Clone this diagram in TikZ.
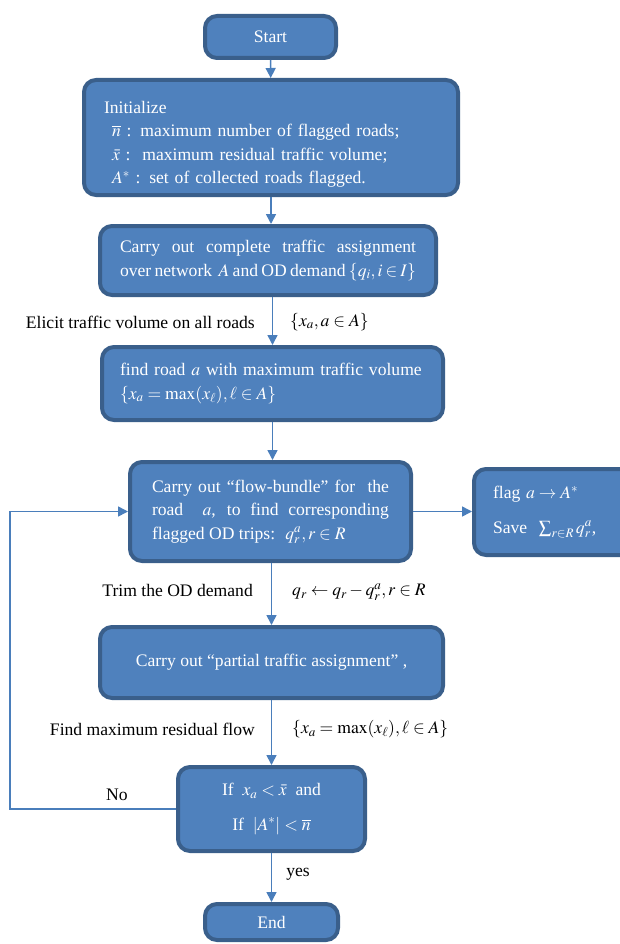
\documentclass[tikz,border=0pt]{standalone}
\usepackage{mathptmx}
\usepackage{fontspec}
\setmainfont{Liberation Serif}
\usepackage{xcolor}
\usepackage{tikz}
\usetikzlibrary{arrows.meta}

\definecolor{boxfill}{HTML}{4F81BD}
\definecolor{boxedge}{HTML}{3A5F8B}
\definecolor{flowline}{HTML}{4A7EBB}

\tikzset{
	box/.style={draw=boxedge,line width=4pt,fill=boxfill,rounded corners=12pt,
		text=white,font=\fontsize{17.6}{23.5}\selectfont},
	flow/.style={draw=flowline,line width=1.6pt,-{Triangle[length=10pt,width=10pt]}},
	lbl/.style={inner sep=0pt,font=\fontsize{17.6}{23.5}\selectfont}
}

\begin{document}
\begin{tikzpicture}[x=1pt,y=-1pt]
		\useasboundingbox (0,0) rectangle (619,944);
		\node[box,minimum width=131pt,minimum height=42pt] (start) at (270.5,37) {Start};
		\node[box,minimum width=374pt,minimum height=115pt,inner xsep=20pt,text width=334pt,align=left] (init) at (271,137.5)
			{\rule{0pt}{26pt}Initialize\\
			\hspace*{8pt}$\overline{n}$ : maximum number of flagged roads;\\
			\hspace*{8pt}$\bar{x}$ :\ \ maximum residual traffic volume;\\
			\hspace*{8pt}$A^{*}$ : set of collected roads flagged.};
		\node[box,minimum width=336pt,minimum height=69pt,inner xsep=20pt,text width=296pt,align=justify] (assign) at (268,260.5)
			{Carry out complete traffic assignment\linebreak
			over network \ $A$ and OD demand $\{q_i, i\in I\}$};
		\node[box,minimum width=341pt,minimum height=73pt,inner xsep=18pt,text width=305pt,align=left] (findroad) at (272.5,383.5)
			{\mbox{find road $a$ with maximum traffic volume}\\
			$\{x_a=\max(x_\ell),\ell\in A\}$};
		\node[box,minimum width=281pt,minimum height=99pt,inner xsep=22pt,text width=237pt,align=justify] (bundle) at (270.5,511.5)
			{Carry out ``flow-bundle'' for \ the\linebreak
			road \ $a$, to find corresponding\linebreak
			flagged OD trips: \ $q_r^a, r\in R$};
		\node[box,minimum width=164pt,minimum height=86pt,inner xsep=19pt,text width=126pt,align=left] (flag) at (556,512)
			{flag $a\rightarrow A^{*}$\\[11pt]
			Save \ $\textstyle\sum_{r\in R} q_r^a$,};
		\node[box,minimum width=343pt,minimum height=71pt] (partial) at (271.5,662.5)
			{Carry out ``partial traffic assignment'' ,};
		\node[box,minimum width=187pt,minimum height=84pt,align=center] (check) at (271.5,809)
			{If \ $x_a<\bar{x}$ \ and\\[11pt]
			If \ $|A^{*}|<\overline{n}$};
		\node[box,minimum width=133pt,minimum height=36pt] (finish) at (271.5,922) {End};

		% labels beside the arrows
		\node[lbl,anchor=east] (elicit) at (255,322) {Elicit traffic volume on all roads};
		\node[lbl,anchor=west] (xaset) at (290,322) {$\{x_a, a\in A\}$};
		\node[lbl,anchor=east] (trim) at (253,590) {Trim the OD demand};
		\node[lbl,anchor=west] (qupdate) at (292,592) {$q_r\leftarrow q_r-q_r^a, r\in R$};
		\node[lbl,anchor=east] (findmax) at (255,729) {Find maximum residual flow};
		\node[lbl,anchor=west] (xmax) at (292,729) {$\{x_a=\max(x_\ell),\ell\in A\}$};
		\node[lbl] (no) at (117,795) {No};
		\node[lbl] (yes) at (298,874) {yes};

		\coordinate (loopleft) at (10,0);
		\draw[flow] (start) -- (init);
		\draw[flow] (init.south) -- (init.south |- assign.north);
		\draw[flow] (assign.south -| findroad) -- (findroad.north);
		\draw[flow] (findroad) -- (bundle.north -| findroad);
		\draw[flow] (bundle.south -| partial) -- (partial.north);
		\draw[flow] (partial) -- (check);
		\draw[flow] (check) -- (finish);
		\draw[flow] (bundle.east) -- (flag.west |- bundle.east);
		\draw[flow] (check.west) -- (check.west -| loopleft) |- (bundle.west);
	\end{tikzpicture}
\end{document}
